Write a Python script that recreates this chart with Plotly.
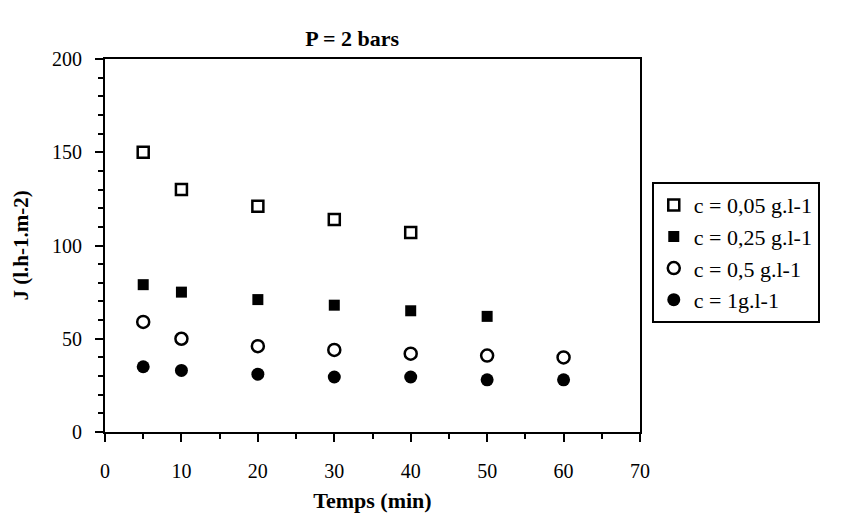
import plotly.graph_objects as go

temps = [5, 10, 20, 30, 40, 50, 60]
j_005 = [150, 130, 121, 114, 107]
j_025 = [79, 75, 71, 68, 65, 62]
j_05 = [59, 50, 46, 44, 42, 41, 40]
j_1 = [35, 33, 31, 29.5, 29.5, 28, 28]

names = ["c = 0,05 g.l-1", "c = 0,25 g.l-1", "c = 0,5 g.l-1", "c = 1g.l-1"]
FONT = "Liberation Serif, Times New Roman, serif"

fig = go.Figure()
fig.add_trace(go.Scatter(x=temps[:len(j_005)], y=j_005, mode="markers", name=names[0],
                         marker=dict(symbol="square-open", size=11, color="black", line=dict(width=2.5))))
fig.add_trace(go.Scatter(x=temps[:len(j_025)], y=j_025, mode="markers", name=names[1],
                         marker=dict(symbol="square", size=11, color="black")))
fig.add_trace(go.Scatter(x=temps, y=j_05, mode="markers", name=names[2],
                         marker=dict(symbol="circle-open", size=12, color="black", line=dict(width=2.5))))
fig.add_trace(go.Scatter(x=temps, y=j_1, mode="markers", name=names[3],
                         marker=dict(symbol="circle", size=13, color="black")))

axis_common = dict(showline=True, linecolor="black", linewidth=2, mirror=True,
                   ticks="outside", tickcolor="black", tickwidth=2, ticklen=8,
                   showgrid=False, zeroline=False, automargin=False,
                   tickfont=dict(family=FONT, size=20, color="black"))

fig.update_xaxes(range=[0, 70], tickvals=[0, 10, 20, 30, 40, 50, 60, 70],
                 minor=dict(ticks="outside", tickcolor="black", tickwidth=2, ticklen=5, dtick=5, tick0=0),
                 ticklabelstandoff=12,
                 title=dict(text="<b>Temps (min)</b>", font=dict(family=FONT, size=22, color="black"), standoff=12),
                 **axis_common)
fig.update_yaxes(range=[0, 200], tickvals=[0, 50, 100, 150, 200],
                 minor=dict(ticks="outside", tickcolor="black", tickwidth=2, ticklen=5, dtick=10, tick0=0),
                 ticklabelstandoff=9,
                 title=dict(text="<b>J (l.h-1.m-2)</b>", font=dict(family=FONT, size=21, color="black"), standoff=18),
                 **axis_common)

fig.update_layout(
    width=853, height=511,
    margin=dict(l=97, r=221, t=51, b=87),
    paper_bgcolor="white", plot_bgcolor="white",
    title=dict(text="<b>P = 2 bars</b>", xref="paper", x=0.462, xanchor="center",
               yref="container", y=0.956, yanchor="top",
               font=dict(family=FONT, size=22, color="black")),
    legend=dict(x=1.022, xanchor="left", y=0.67, yanchor="top",
                bordercolor="black", borderwidth=2, bgcolor="white",
                font=dict(family=FONT, size=22, color="black"),
                tracegroupgap=0),
    showlegend=True,
)

fig.write_html("out.html")
